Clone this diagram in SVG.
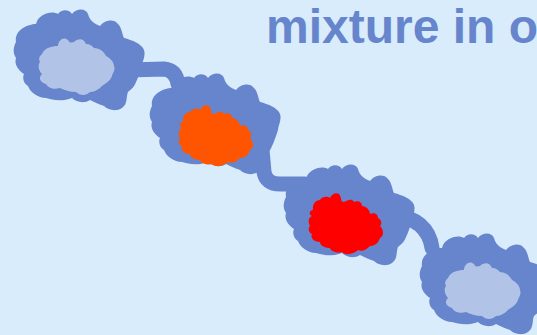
<svg xmlns="http://www.w3.org/2000/svg" xmlns:xlink="http://www.w3.org/1999/xlink" width="537" height="335" viewBox="0 0 537 335">
  <style>
    .shell { fill: #6685cd; }
    .link { fill: none; stroke: #6685cd; stroke-width: 15; stroke-linecap: round; stroke-linejoin: round; }
    .pale { fill: #b1c3e6; }
    .orange { fill: #ff5500; }
    .red { fill: #ff0000; }
    .title { font-family: "Liberation Sans", Arial, sans-serif; font-weight: bold; font-size: 48px; fill: #6685cd; }
  </style>
  <defs>
    <!-- wavy outer shell of a bead -->
    <path id="shell" d="M16,42 C14,30 28,24 36,24 C38,14 52,10 58,14 C62,8 70,10 72,14 C76,8 86,8 88,14 C90,22 96,24 100,26 C104,20 114,18 118,24 C122,28 122,34 124,38 C132,40 142,44 144,50 C146,56 142,62 142,66 C140,72 138,78 136,82 C134,88 130,90 128,92 C126,96 128,104 122,108 C116,112 108,110 104,106 C98,104 94,102 90,100 C84,104 76,102 72,98 C62,102 52,100 46,98 C38,98 30,92 28,86 C24,84 22,78 24,74 C18,70 14,64 16,58 C12,52 14,46 16,42 Z"/>
    <!-- soft inner core -->
    <path id="core" d="M42,54 C44,48 52,46 58,46 C58,40 64,36 68,40 C70,44 72,42 74,42 C78,38 84,38 86,44 C90,44 92,46 94,48 C100,48 104,52 106,56 C110,58 114,62 114,66 C116,70 112,74 112,76 C110,82 104,84 102,86 C98,90 94,92 90,92 C86,96 80,96 76,92 C70,92 64,90 60,88 C54,90 48,88 46,84 C40,82 38,78 42,74 C38,70 38,64 40,62 C38,58 40,56 42,54 Z"/>
    <!-- bumpy active core -->
    <path id="hot" d="M183,122 C182,116 186,112 190,112 C192,108 198,108 200,110 C202,104 210,104 210,108 C212,110 210,114 214,114 C218,112 222,110 224,114 C228,112 232,114 232,118 C236,118 240,122 240,126 C244,124 248,126 248,130 C252,132 252,136 250,138 C254,142 254,148 250,150 C248,156 244,158 240,158 C236,162 232,164 228,162 C224,166 216,168 212,164 C206,166 200,162 200,160 C196,160 190,158 190,154 C184,154 180,150 182,146 C178,144 178,140 180,138 C178,134 178,130 182,128 C178,126 180,122 183,122 Z"/>
  </defs>

  <rect width="537" height="335" fill="#d9ecfb"/>

  <g id="connectors">
    <path class="link" d="M128,70 L164,69 Q176,70 178,84"/>
    <path class="link" d="M262,150 L264,172 Q266,184 280,184 L305,184"/>
    <path class="link" d="M392,214 Q428,219 432,248"/>
  </g>

  <g id="bead1">
    <use xlink:href="#shell" class="shell"/>
    <use xlink:href="#core" class="pale"/>
  </g>
  <g id="bead2">
    <use xlink:href="#shell" class="shell" transform="translate(136,64)"/>
    <use xlink:href="#hot" class="orange"/>
  </g>
  <g id="bead3">
    <use xlink:href="#shell" class="shell" transform="translate(270,155)"/>
    <use xlink:href="#hot" class="red" transform="translate(130,88)"/>
  </g>
  <g id="bead4">
    <use xlink:href="#shell" class="shell" transform="translate(406,224)"/>
    <use xlink:href="#core" class="pale" transform="translate(406,224)"/>
  </g>

  <text class="title" x="266" y="43">mixture in o</text>
</svg>
